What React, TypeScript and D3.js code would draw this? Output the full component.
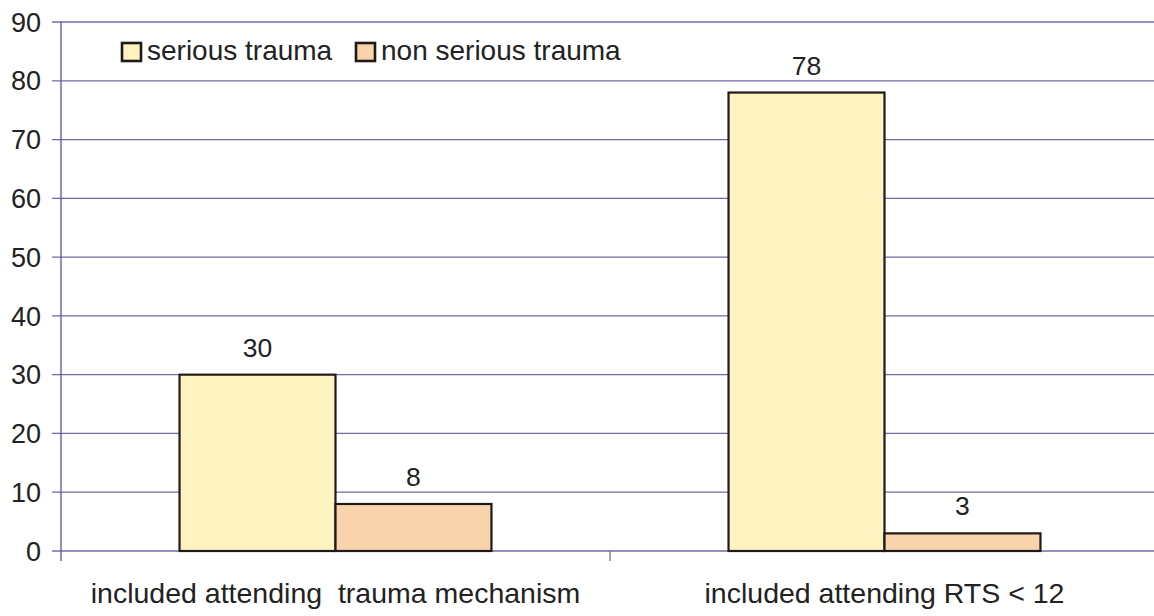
import React from "react";
import * as d3 from "d3";

const categories = ["included attending  trauma mechanism", "included attending RTS < 12"];
const seriesNames = ["serious trauma", "non serious trauma"];
const seriousValues = [30, 78];
const nonSeriousValues = [8, 3];
const yTicks = [0, 10, 20, 30, 40, 50, 60, 70, 80, 90];

const W = 1154;
const H = 616;
const margin = { left: 61, right: -5, top: 22, bottom: 65 };
const fills = ["#fdf3c0", "#f8d3ac"];
const gridColor = "#5a4f9c";
const font = "'Liberation Sans', Arial, sans-serif";

export default function App() {
  const x = d3
    .scaleBand<string>()
    .domain(categories)
    .range([margin.left, W - margin.right])
    .paddingInner(0)
    .paddingOuter(0);
  const inner = d3
    .scaleBand<string>()
    .domain(seriesNames)
    .range([0, x.bandwidth()])
    .paddingInner(0)
    .paddingOuter(0.76);
  const y = d3.scaleLinear().domain([0, 90]).range([H - margin.bottom, margin.top]);

  const series = [seriousValues, nonSeriousValues];

  return (
    <svg
      width={W}
      height={H}
      style={{ position: "absolute", left: 0, top: 0, background: "#fff" }}
      fontFamily={font}
    >
      {/* horizontal gridlines + y ticks */}
      {yTicks.map((t) => (
        <g key={t}>
          <line
            x1={margin.left - 9}
            x2={W}
            y1={y(t)}
            y2={y(t)}
            stroke={gridColor}
            strokeWidth={1.3}
            opacity={0.85}
          />
          <text
            x={41}
            y={y(t)}
            dy="0.36em"
            textAnchor="end"
            fontSize={27}
            fill="#222"
          >
            {t}
          </text>
        </g>
      ))}
      {/* y axis */}
      <line
        x1={margin.left}
        x2={margin.left}
        y1={y(90)}
        y2={y(0) + 10}
        stroke={gridColor}
        strokeWidth={1.3}
      />
      {/* category boundary ticks */}
      {categories.slice(1).map((c) => (
        <line
          key={c}
          x1={x(c)!}
          x2={x(c)!}
          y1={y(0)}
          y2={y(0) + 10}
          stroke="#777"
          strokeWidth={1.3}
        />
      ))}
      {/* bars */}
      {categories.map((c, ci) =>
        seriesNames.map((s, si) => {
          const v = series[si][ci];
          const bx = x(c)! + inner(s)!;
          const bw = inner.bandwidth();
          return (
            <g key={c + s}>
              <rect
                x={bx}
                y={y(v)}
                width={bw}
                height={y(0) - y(v)}
                fill={fills[si]}
                stroke="#1e1a1a"
                strokeWidth={2.2}
              />
              <text
                x={bx + bw / 2}
                y={y(v) - 18}
                textAnchor="middle"
                fontSize={26.5}
                fill="#222"
              >
                {v}
              </text>
            </g>
          );
        })
      )}
      {/* category labels */}
      {categories.map((c) => (
        <text
          key={c}
          x={x(c)! + x.bandwidth() / 2}
          y={603}
          textAnchor="middle"
          fontSize={28.5}
          fill="#222"
          style={{ whiteSpace: "pre" }}
        >
          {c}
        </text>
      ))}
      {/* legend */}
      {seriesNames.map((s, i) => {
        const lx = [122, 356][i];
        return (
          <g key={s}>
            <rect
              x={lx}
              y={43}
              width={19}
              height={18}
              fill={fills[i]}
              stroke="#1e1a1a"
              strokeWidth={2.6}
            />
            <text x={lx + 25} y={60} fontSize={28} fill="#222">
              {s}
            </text>
          </g>
        );
      })}
    </svg>
  );
}
